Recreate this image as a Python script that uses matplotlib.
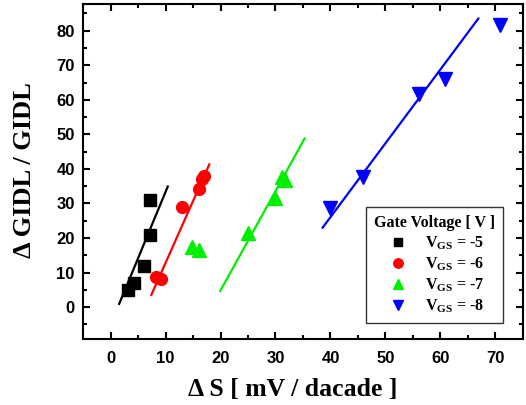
import matplotlib
matplotlib.use("Agg")
import matplotlib.pyplot as plt
from matplotlib.ticker import MultipleLocator

plt.rcParams['mathtext.fontset'] = 'custom'
plt.rcParams['mathtext.rm'] = 'Liberation Serif:bold'
plt.rcParams['mathtext.bf'] = 'Liberation Serif:bold'

# data
x5 = [3.1, 4.2, 6.1, 7.1, 7.2]
y5 = [5.0, 6.9, 11.9, 20.8, 31.0]
x6 = [8.2, 9.2, 13.0, 16.0, 16.6, 17.05]
y6 = [8.8, 8.1, 29.1, 34.1, 37.0, 37.9]
x7 = [14.9, 16.1, 25.0, 30.0, 31.1, 31.8]
y7 = [17.5, 16.6, 21.4, 31.5, 37.7, 36.8]
x8 = [40.0, 46.0, 56.1, 60.9, 70.9]
y8 = [28.6, 37.7, 61.6, 65.9, 81.6]

# fit lines (end points)
fit5_x = [1.56, 10.4]
fit5_y = [0.95, 34.9]
fit6_x = [7.41, 17.96]
fit6_y = [3.55, 41.3]
fit7_x = [19.95, 35.3]
fit7_y = [4.7, 48.8]
fit8_x = [38.57, 66.9]
fit8_y = [23.0, 83.5]

labels = [r'V$_{\mathrm{GS}}$ = -5', r'V$_{\mathrm{GS}}$ = -6',
          r'V$_{\mathrm{GS}}$ = -7', r'V$_{\mathrm{GS}}$ = -8']
colors = ['#000000', '#ff0000', '#00ee00', '#0000ff']

fig = plt.figure(figsize=(5.26, 4.05), dpi=100)
ax = fig.add_axes([0.158, 0.163, 0.836, 0.827])

lw = 1.6
ax.plot(fit5_x, fit5_y, color=colors[0], lw=lw)
ax.plot(fit6_x, fit6_y, color=colors[1], lw=lw)
ax.plot(fit7_x, fit7_y, color=colors[2], lw=lw)
ax.plot(fit8_x, fit8_y, color=colors[3], lw=lw)

ax.plot(x5, y5, 's', color=colors[0], ms=8, ls='none', label=labels[0])
ax.plot(x6, y6, 'o', color=colors[1], ms=8.5, ls='none', label=labels[1])
ax.plot(x7, y7, '^', color=colors[2], ms=9.5, ls='none', label=labels[2])
ax.plot(x8, y8, 'v', color=colors[3], ms=9.5, ls='none', label=labels[3])

ax.set_xlim(-5, 75)
ax.set_ylim(-9.2, 87.7)
ax.xaxis.set_major_locator(MultipleLocator(10))
ax.xaxis.set_minor_locator(MultipleLocator(5))
ax.yaxis.set_major_locator(MultipleLocator(10))
ax.yaxis.set_minor_locator(MultipleLocator(5))
ax.tick_params(which='both', direction='in', top=True, right=True, width=1.5)
ax.tick_params(which='major', length=5)
ax.tick_params(which='minor', length=3)
for s in ax.spines.values():
    s.set_linewidth(1.5)

for lab in ax.get_xticklabels() + ax.get_yticklabels():
    lab.set_family('Liberation Sans')
    lab.set_fontweight('bold')
    lab.set_fontsize(12)
ax.tick_params(axis='x', pad=9)
ax.tick_params(axis='y', pad=6)

ax.set_xlabel('Δ S [ mV / dacade ]', family='Liberation Serif', fontweight='bold', fontsize=18.5)
ax.set_ylabel('Δ GIDL / GIDL', family='Liberation Serif', fontweight='bold', fontsize=19)
ax.xaxis.set_label_coords(0.476, -0.152, transform=ax.transAxes)
ax.xaxis.label.set_va('center')
ax.yaxis.set_label_coords(-0.134, 0.505, transform=ax.transAxes)
ax.yaxis.label.set_va('center')

leg = ax.legend(loc='lower right', bbox_to_anchor=(0.9545, 0.048), borderaxespad=0,
                title='Gate Voltage [ V ]',
                prop={'family': 'Liberation Serif', 'weight': 'bold', 'size': 11.5},
                title_fontproperties={'family': 'Liberation Serif', 'weight': 'bold', 'size': 11.5},
                fancybox=False, edgecolor='#333333', framealpha=1, handletextpad=0.9,
                labelspacing=0.2, borderpad=0.5, handlelength=1.6, markerscale=0.8)
leg.get_frame().set_linewidth(1.0)

fig.savefig('out.png', dpi=100)
